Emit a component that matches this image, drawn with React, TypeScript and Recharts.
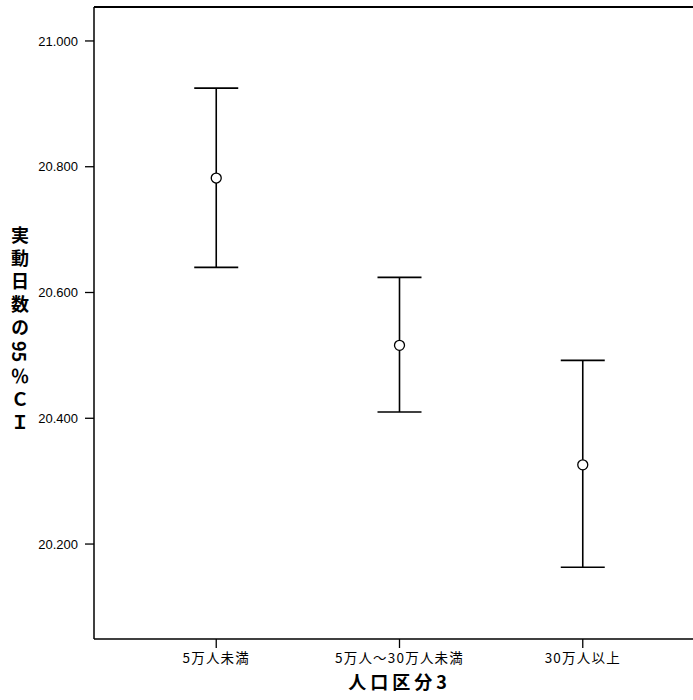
import React from 'react';
import { ComposedChart, Scatter, ErrorBar, XAxis, YAxis, Label, ReferenceLine } from 'recharts';

const categories = ['5万人未満', '5万人～30万人未満', '30万人以上'];
const means = [20.782, 20.516, 20.326];
const lowers = [20.640, 20.410, 20.163];
const uppers = [20.925, 20.624, 20.492];
const yTicks = [20.2, 20.4, 20.6, 20.8, 21.0];
const yDomain = [20.049, 21.054];

const data = categories.map((c, i) => ({
  x: i,
  name: c,
  mean: means[i],
  err: [means[i] - lowers[i], uppers[i] - means[i]],
}));

const CircleShape = (props: any) => {
  const { cx, cy } = props;
  return <circle cx={cx} cy={cy} r={5} fill="#fff" stroke="#000" strokeWidth={1.3} />;
};

const YLabel = (props: any) => {
  const vb = props.viewBox || {};
  return (
    <text
      x={20}
      y={vb.y + 219}
      style={{ writingMode: 'vertical-rl' as any, textOrientation: 'mixed' as any, fontFamily: '"Noto Sans CJK JP", sans-serif', fontWeight: 700, fontSize: 18, letterSpacing: 5 }}
      fill="#000"
    >
      実動日数の<tspan style={{ letterSpacing: 0 }}>95</tspan><tspan dy={5}>％ＣＩ</tspan>
    </text>
  );
};

const XLabel = (props: any) => {
  const vb = props.viewBox || {};
  return (
    <text
      x={vb.x + vb.width / 2}
      y={689}
      textAnchor="middle"
      style={{ fontFamily: '"Noto Sans CJK JP", sans-serif', fontWeight: 700, fontSize: 18, letterSpacing: 4 }}
      fill="#000"
    >
      人口区分3
    </text>
  );
};

export default function App() {
  return (
    <div style={{ position: 'absolute', left: 0, top: 0, width: 693, height: 700, overflow: 'hidden', background: '#fff' }}>
      <ComposedChart width={720} height={700} data={data} margin={{ top: 7, right: 15, bottom: 31, left: 0 }}>
        <XAxis
          type="number"
          dataKey="x"
          domain={[-0.667, 2.667]}
          ticks={[0, 1, 2]}
          tickFormatter={(v: number) => categories[v] ?? ''}
          height={30}
          tickSize={9}
          tickMargin={5}
          axisLine={{ stroke: '#000', strokeWidth: 1.5 }}
          tickLine={{ stroke: '#000', strokeWidth: 1.3 }}
          tick={{ fill: '#000', fontSize: 13.5, fontFamily: '"Noto Sans CJK JP", sans-serif', letterSpacing: 1.2 }}
          interval={0}
        >
          <Label content={<XLabel />} />
        </XAxis>
        <YAxis
          type="number"
          domain={yDomain}
          ticks={yTicks}
          tickFormatter={(v: number) => v.toFixed(3)}
          width={94}
          tickSize={9}
          tickMargin={7}
          axisLine={{ stroke: '#000', strokeWidth: 1.5 }}
          tickLine={{ stroke: '#000', strokeWidth: 1.3 }}
          tick={{ fill: '#000', fontSize: 13, fontFamily: '"Liberation Sans", Arial, sans-serif' }}
          allowDataOverflow
        >
          <Label content={<YLabel />} />
        </YAxis>
        <ReferenceLine y={yDomain[1]} stroke="#000" strokeWidth={2} />
        <Scatter dataKey="mean" shape={<CircleShape />} isAnimationActive={false}>
          <ErrorBar dataKey="err" width={22} stroke="#000" strokeWidth={1.6} direction="y" isAnimationActive={false} />
        </Scatter>
      </ComposedChart>
    </div>
  );
}
